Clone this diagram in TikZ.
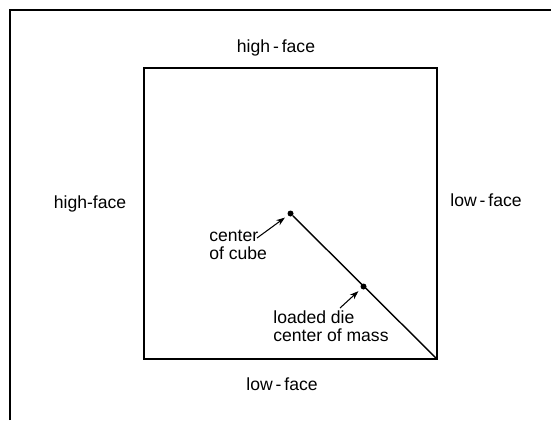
\documentclass[tikz,border=0pt]{standalone}
\usepackage{fontspec}
\setmainfont{Liberation Sans}
\usetikzlibrary{arrows.meta, positioning}

\begin{document}
\begin{tikzpicture}[
            x=0.02cm, y=-0.02cm,
            label/.style={font=\fontsize{10}{10.5}\selectfont, inner sep=0pt},
            note/.style={label, align=left, anchor=west},
            dot/.style={circle, fill, inner sep=0pt, minimum size=0.12cm},
            pointer/.style={-{Stealth[length=5pt, width=3.5pt]}, line width=0.6pt, shorten >=2pt}
            ]
            \useasboundingbox (0,0) rectangle (551,420);

            % cadre
            \draw[line width=1.1pt] (10,420) -- (10,10) -- (551,10);

            % cube
            \coordinate (nw) at (144,68);
            \coordinate (se) at (437,359);
            \draw[line width=1.1pt] (nw) rectangle (se);

            % faces
            \node[label] (top) at (276,48) {high\,-\,face};
            \node[label] (left) at (90,204) {high-face};
            \node[label] (right) at (486,200) {low\,-\,face};
            \node[label] (bottom) at (282,384) {low\,-\,face};

            % centres
            \node[dot] (cc) at (290.5,213.5) {};
            \node[dot] (cm) at (363.5,286.5) {};
            \draw[line width=0.8pt] (cc) -- (se);

            % legendes
            \node[note] (cclabel) at (209,245) {center\\of cube};
            \node[note] (cmlabel) at (273,326) {loaded die\\center of mass};
            \coordinate (cctail) at (257,238);
            \coordinate (cmtail) at (340,308);
            \draw[pointer] (cctail) -- (cc);
            \draw[pointer] (cmtail) -- (cm);

        \end{tikzpicture}
\end{document}
